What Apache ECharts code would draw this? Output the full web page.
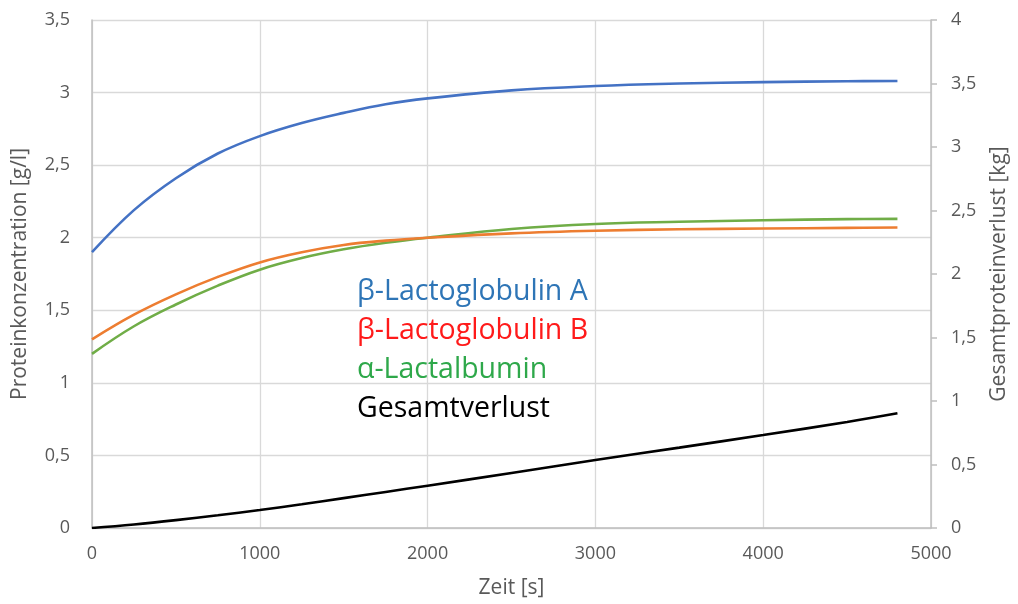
<!DOCTYPE html>
<html>
<head>
<meta charset="utf-8">
<script src="https://cdn.jsdelivr.net/npm/echarts@6/dist/echarts.min.js"></script>
<style>
html,body{margin:0;padding:0;background:#fff;}
#chart{width:1018px;height:604px;}
</style>
</head>
<body>
<div id="chart"></div>
<script>
// Data
const zeit = [0, 250, 500, 750, 1000, 1250, 1500, 1750, 2000, 2500, 3000, 3500, 4000, 4500, 4800];
const lgA = [1.90, 2.19, 2.41, 2.58, 2.70, 2.79, 2.86, 2.92, 2.96, 3.015, 3.045, 3.062, 3.072, 3.078, 3.08];
const lgB = [1.30, 1.47, 1.61, 1.73, 1.83, 1.90, 1.95, 1.98, 2.00, 2.03, 2.048, 2.058, 2.063, 2.068, 2.07];
const laLb = [1.20, 1.39, 1.54, 1.67, 1.78, 1.86, 1.92, 1.965, 2.00, 2.06, 2.095, 2.11, 2.12, 2.128, 2.13];
const gesamt = [0, 0.028, 0.062, 0.100, 0.142, 0.187, 0.235, 0.284, 0.333, 0.433, 0.535, 0.633, 0.732, 0.835, 0.903];

const seriesNames = ['β-Lactoglobulin A', 'β-Lactoglobulin B', 'α-Lactalbumin', 'Gesamtverlust'];
const lineColors = ['#4472C4', '#ED7D31', '#70AD47', '#000000'];
const textColors = ['#2E75B6', '#FF1A1A', '#2EA84A', '#000000'];

const pairs = arr => zeit.map((t, i) => [t, arr[i]]);
const comma = v => String(v).replace('.', ',');

const FONT = '"Open Sans", "Noto Sans", sans-serif';
const grey = '#595959';

const chart = echarts.init(document.getElementById('chart'), null, {renderer: 'canvas'});
chart.setOption({
  animation: false,
  textStyle: {fontFamily: FONT},
  grid: {left: 92, right: 86, top: 20, bottom: 76},
  legend: {
    orient: 'vertical',
    left: 347,
    top: 272,
    icon: 'none',
    itemWidth: 0,
    itemHeight: 0,
    itemGap: 9,
    textStyle: {fontFamily: FONT, fontSize: 28.5, lineHeight: 30},
    data: seriesNames.map((n, i) => ({name: n, textStyle: {color: textColors[i]}}))
  },
  xAxis: {
    type: 'value', min: 0, max: 5000, interval: 1000,
    name: 'Zeit [s]', nameLocation: 'middle', nameGap: 50,
    nameTextStyle: {color: grey, fontSize: 21, fontFamily: FONT},
    axisLine: {show: true, lineStyle: {color: '#BFBFBF', width: 1.5}},
    axisTick: {show: false},
    axisLabel: {color: grey, fontSize: 18, margin: 17, fontFamily: FONT, formatter: v => String(v)},
    splitLine: {show: true, lineStyle: {color: '#D9D9D9', width: 1.3}}
  },
  yAxis: [{
    type: 'value', min: 0, max: 3.5, interval: 0.5, position: 'left',
    name: 'Proteinkonzentration [g/l]', nameLocation: 'middle', nameGap: 61,
    nameTextStyle: {color: grey, fontSize: 21, fontFamily: FONT},
    axisLine: {show: true, lineStyle: {color: '#BFBFBF', width: 1.5}},
    axisTick: {show: false},
    axisLabel: {color: grey, fontSize: 18, margin: 22, formatter: comma, fontFamily: FONT},
    splitLine: {show: true, lineStyle: {color: '#D9D9D9', width: 1.3}}
  }, {
    type: 'value', min: 0, max: 4, interval: 0.5, position: 'right',
    name: 'Gesamtproteinverlust [kg]', nameLocation: 'middle', nameGap: 58,
    nameTextStyle: {color: grey, fontSize: 21, fontFamily: FONT},
    axisLine: {show: true, lineStyle: {color: '#BFBFBF', width: 1.5}},
    axisTick: {show: true, length: 6, lineStyle: {color: '#BFBFBF', width: 1.5}},
    axisLabel: {color: grey, fontSize: 18, margin: 20, formatter: comma, fontFamily: FONT},
    splitLine: {show: false}
  }],
  series: [
    {name: seriesNames[0], type: 'line', yAxisIndex: 0, data: pairs(lgA)},
    {name: seriesNames[1], type: 'line', yAxisIndex: 0, data: pairs(lgB)},
    {name: seriesNames[2], type: 'line', yAxisIndex: 0, data: pairs(laLb)},
    {name: seriesNames[3], type: 'line', yAxisIndex: 1, data: pairs(gesamt)}
  ].map((s, i) => Object.assign(s, {
    smooth: 0.4, showSymbol: false, symbol: 'none',
    lineStyle: {color: lineColors[i], width: 2.6},
    itemStyle: {color: lineColors[i]},
    z: 10 - i
  }))
});
</script>
</body>
</html>
